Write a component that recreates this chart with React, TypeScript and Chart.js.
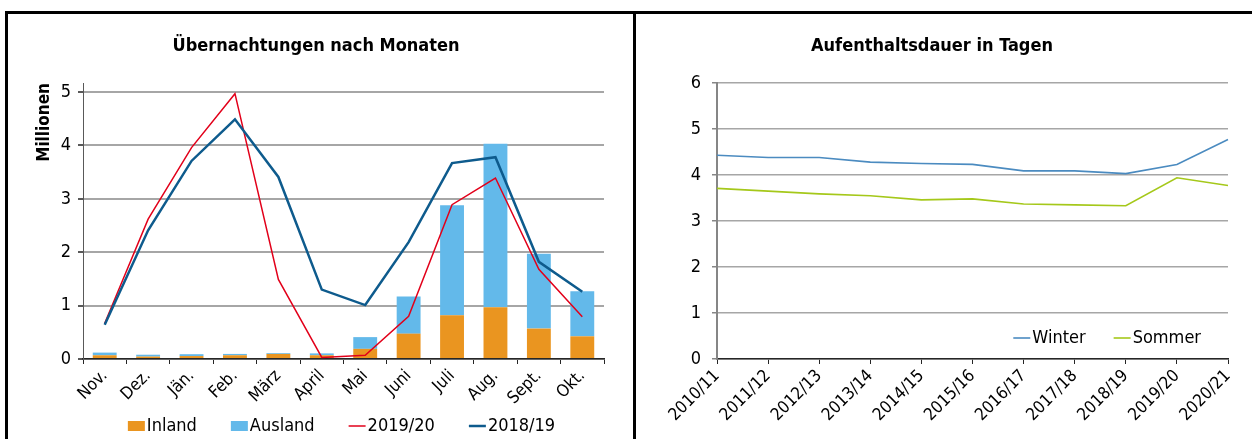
import React, { useEffect, useRef } from "react";
import { Chart, registerables } from "chart.js";
Chart.register(...registerables);

const FONT = "'DejaVu Sans Condensed', 'DejaVu Sans', sans-serif";

// ---- Left chart data (Millionen) ----
const months = ["Nov.", "Dez.", "Jän.", "Feb.", "März", "April", "Mai", "Juni", "Juli", "Aug.", "Sept.", "Okt."];
const inland = [0.07, 0.045, 0.055, 0.07, 0.095, 0.07, 0.19, 0.475, 0.82, 0.97, 0.57, 0.425];
const ausland = [0.05, 0.035, 0.035, 0.025, 0.015, 0.035, 0.22, 0.695, 2.06, 3.06, 1.4, 0.845];
const season1920 = [0.67, 2.62, 3.96, 4.97, 1.49, 0.03, 0.07, 0.8, 2.89, 3.39, 1.68, 0.79];
const season1819 = [0.64, 2.41, 3.71, 4.49, 3.41, 1.3, 1.01, 2.19, 3.67, 3.78, 1.82, 1.26];
const leftTitle = "Übernachtungen nach Monaten";
const leftAxisTitle = "Millionen";

// ---- Right chart data (Tage) ----
const seasons = ["2010/11", "2011/12", "2012/13", "2013/14", "2014/15", "2015/16", "2016/17", "2017/18", "2018/19", "2019/20", "2020/21"];
const winter = [4.43, 4.38, 4.38, 4.28, 4.25, 4.23, 4.09, 4.09, 4.03, 4.23, 4.77];
const sommer = [3.71, 3.65, 3.59, 3.55, 3.46, 3.48, 3.37, 3.35, 3.33, 3.94, 3.77];
const rightTitle = "Aufenthaltsdauer in Tagen";

const C_INLAND = "#EA9520";
const C_AUSLAND = "#63B9EA";
const C_RED = "#E2001A";
const C_DARK = "#0E5B8D";
const C_WINTER = "#4B8BC0";
const C_SOMMER = "#A5C81A";
const GRID = "#A6A6A6";

const TITLE_FONT = { family: FONT, size: 18, weight: "bold", lineHeight: 1.2 };
const TITLE_PAD = { top: 21.2, bottom: 26.2 };

type Item = { label: string; color: string; kind: string; lw: number };

function itemsOf(chart: any): Item[] {
  return chart.data.datasets.map((ds: any) => ({
    label: ds.label,
    color: ds.type === "bar" ? ds.backgroundColor : ds.borderColor,
    kind: ds.type,
    lw: ds.borderWidth || 1,
  }));
}

function drawItems(ctx: CanvasRenderingContext2D, items: Item[], startX: number, y: number, gapItem: number) {
  const sym = 17;
  const gapSym = 2;
  let x = startX;
  for (const it of items) {
    if (it.kind === "bar") {
      ctx.fillStyle = it.color;
      ctx.fillRect(x, y - 5, sym, 10);
    } else {
      ctx.strokeStyle = it.color;
      ctx.lineWidth = it.lw;
      ctx.beginPath();
      ctx.moveTo(x, y);
      ctx.lineTo(x + sym, y);
      ctx.stroke();
    }
    x += sym + gapSym;
    ctx.fillStyle = "#000";
    ctx.fillText(it.label, x, y);
    x += ctx.measureText(it.label).width + gapItem;
  }
}

const legendBelow = {
  id: "legendBelow",
  afterDraw(chart: any) {
    const ctx = chart.ctx as CanvasRenderingContext2D;
    const items = itemsOf(chart);
    ctx.save();
    ctx.font = `18px ${FONT}`;
    ctx.textBaseline = "middle";
    ctx.textAlign = "left";
    const gapItem = 34;
    const widths = items.map((it) => 19 + ctx.measureText(it.label).width);
    const total = widths.reduce((a, b) => a + b, 0) + gapItem * (items.length - 1);
    const cx = (chart.chartArea.left + chart.chartArea.right) / 2;
    drawItems(ctx, items, cx - total / 2 - 2, chart.height - 13, gapItem);
    ctx.restore();
  },
};

const legendInside = {
  id: "legendInside",
  afterDraw(chart: any) {
    const ctx = chart.ctx as CanvasRenderingContext2D;
    const items = itemsOf(chart);
    ctx.save();
    ctx.font = `18px ${FONT}`;
    ctx.textBaseline = "middle";
    ctx.textAlign = "left";
    const gapItem = 28;
    const widths = items.map((it) => 19 + ctx.measureText(it.label).width);
    const total = widths.reduce((a, b) => a + b, 0) + gapItem * (items.length - 1);
    drawItems(ctx, items, chart.chartArea.right - 27 - total, chart.chartArea.bottom - 21, gapItem);
    ctx.restore();
  },
};

function LeftChart() {
  const ref = useRef<HTMLCanvasElement>(null);
  useEffect(() => {
    const chart = new Chart(ref.current!, {
      type: "bar",
      data: {
        labels: months,
        datasets: [
          { type: "bar", label: "Inland", data: inland, backgroundColor: C_INLAND, stack: "b", order: 2, barPercentage: 0.55, categoryPercentage: 1, borderWidth: 0 } as any,
          { type: "bar", label: "Ausland", data: ausland, backgroundColor: C_AUSLAND, stack: "b", order: 2, barPercentage: 0.55, categoryPercentage: 1, borderWidth: 0 } as any,
          { type: "line", label: "2019/20", data: season1920, borderColor: C_RED, backgroundColor: C_RED, borderWidth: 1.5, pointRadius: 0, stack: "l1", order: 1, tension: 0 } as any,
          { type: "line", label: "2018/19", data: season1819, borderColor: C_DARK, backgroundColor: C_DARK, borderWidth: 2.5, pointRadius: 0, stack: "l2", order: 0, tension: 0 } as any,
        ],
      },
      options: {
        responsive: false,
        animation: false,
        layout: { padding: { left: 20, right: 29, top: 0, bottom: 0 } },
        plugins: {
          legend: { display: false },
          tooltip: { enabled: false },
          title: { display: true, text: leftTitle, color: "#000", font: TITLE_FONT, padding: TITLE_PAD },
        },
        scales: {
          x: {
            stacked: true,
            offset: true,
            grid: { display: true, drawOnChartArea: false, drawTicks: true, tickLength: 5, tickColor: "#262626", offset: true },
            border: { display: true, color: "#262626", width: 1.5 },
            ticks: { color: "#000", font: { family: FONT, size: 17 }, minRotation: 45, maxRotation: 45, padding: 2, autoSkip: false },
            afterFit: (s: any) => { s.height = 80; },
          },
          y: {
            stacked: true,
            min: 0,
            max: 5.17,
            grid: { color: GRID, lineWidth: 2, tickLength: 5, tickColor: "#595959" },
            border: { display: true, color: "#595959", width: 1 },
            ticks: { stepSize: 1, includeBounds: false, color: "#000", font: { family: FONT, size: 18 }, padding: 7 },
            title: {
              display: true,
              text: leftAxisTitle,
              align: "end",
              color: "#000",
              font: { family: FONT, size: 17, weight: "bold", lineHeight: 1.2 },
              padding: { top: 6.3, bottom: 0 },
            },
            afterFit: (s: any) => { s.width = 55; },
          },
        },
      } as any,
      plugins: [legendBelow],
    });
    return () => chart.destroy();
  }, []);
  return <canvas ref={ref} width={625} height={425} style={{ position: "absolute", left: 8, top: 14, display: "block" }} />;
}

function RightChart() {
  const ref = useRef<HTMLCanvasElement>(null);
  useEffect(() => {
    const chart = new Chart(ref.current!, {
      type: "line",
      data: {
        labels: seasons,
        datasets: [
          { type: "line", label: "Winter", data: winter, borderColor: C_WINTER, backgroundColor: C_WINTER, borderWidth: 1.6, pointRadius: 0, tension: 0 } as any,
          { type: "line", label: "Sommer", data: sommer, borderColor: C_SOMMER, backgroundColor: C_SOMMER, borderWidth: 1.6, pointRadius: 0, tension: 0 } as any,
        ],
      },
      options: {
        responsive: false,
        animation: false,
        layout: { padding: { left: 0, right: 24, top: 0, bottom: 0 } },
        plugins: {
          legend: { display: false },
          tooltip: { enabled: false },
          title: { display: true, text: rightTitle, color: "#000", font: TITLE_FONT, padding: TITLE_PAD },
        },
        scales: {
          x: {
            offset: false,
            grid: { display: true, drawOnChartArea: false, drawTicks: true, tickLength: 5, tickColor: "#262626" },
            border: { display: true, color: "#262626", width: 1.5 },
            ticks: { color: "#000", font: { family: FONT, size: 17 }, minRotation: 45, maxRotation: 45, padding: 2, autoSkip: false },
            afterFit: (s: any) => { s.height = 80; },
          },
          y: {
            min: 0,
            max: 6,
            grid: { color: GRID, lineWidth: 1.5, tickLength: 5, tickColor: "#868686" },
            border: { display: true, color: "#868686", width: 2 },
            ticks: { stepSize: 1, color: "#000", font: { family: FONT, size: 18 }, padding: 11 },
            afterFit: (s: any) => { s.width = 81; },
          },
        },
      } as any,
      plugins: [legendInside],
    });
    return () => chart.destroy();
  }, []);
  return <canvas ref={ref} width={616} height={425} style={{ position: "absolute", left: 636, top: 14, display: "block" }} />;
}

export default function App() {
  const line = (s: React.CSSProperties) => <div style={{ position: "absolute", background: "#000", ...s }} />;
  return (
    <div style={{ position: "fixed", left: 0, top: 0, width: 1252, height: 439, background: "#fff", overflow: "hidden" }}>
      {line({ left: 5, top: 11, width: 1247, height: 3 })}
      {line({ left: 5, top: 11, width: 3, height: 428 })}
      {line({ left: 633, top: 11, width: 3, height: 428 })}
      <LeftChart />
      <RightChart />
    </div>
  );
}
